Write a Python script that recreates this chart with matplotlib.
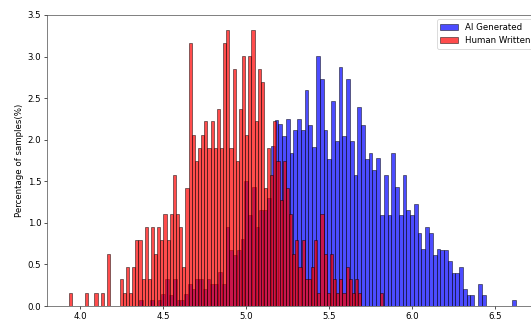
import numpy as np
import matplotlib
matplotlib.use("Agg")
import matplotlib.pyplot as plt

# percentage of samples per bin, 100 bins each
ai_range = (4.355, 6.625)
human_range = (3.936, 5.827)

ai_pct = [0.07, 0, 0, 0.07, 0, 0.07, 0.14, 0.33, 0.13, 0.33,
          0.07, 0.07, 0.14, 0.27, 0.20, 0.33, 0.33, 0.20, 0.33, 0.27,
          0.27, 0.41, 0.27, 0.95, 0.67, 0.61, 0.67, 0.81, 1.50, 1.09,
          1.43, 0.95, 1.16, 1.16, 1.30, 1.92, 2.24, 2.19, 2.04, 2.25,
          1.84, 2.12, 2.25, 2.12, 2.60, 2.18, 1.91, 3.01, 2.73, 2.12,
          1.77, 2.46, 1.98, 2.87, 2.05, 2.73, 1.98, 1.57, 2.39, 2.18,
          1.77, 1.84, 1.63, 1.78, 1.09, 1.57, 1.09, 1.84, 1.43, 1.09,
          1.57, 1.16, 1.09, 1.23, 0.88, 0.68, 0.95, 0.88, 0.61, 0.68,
          0.67, 0.67, 0.54, 0.40, 0.40, 0.47, 0.20, 0.13, 0.13, 0,
          0.27, 0.13, 0, 0, 0, 0, 0, 0, 0, 0.07]

human_pct = [0.16, 0, 0, 0, 0, 0.16, 0, 0, 0.16, 0,
             0.16, 0, 0.63, 0, 0, 0, 0.32, 0.16, 0.47, 0.16,
             0.47, 0.79, 0.79, 0.32, 0.95, 0.32, 0.95, 0.63, 0.95, 0.79,
             1.11, 0.79, 1.11, 1.58, 1.11, 0.95, 0.47, 1.42, 3.16, 2.06,
             1.74, 1.90, 2.06, 2.22, 1.90, 2.22, 1.90, 2.37, 1.90, 3.16,
             3.32, 1.90, 2.85, 1.74, 2.37, 3.01, 2.06, 3.01, 3.32, 2.22,
             2.85, 2.69, 1.42, 1.90, 1.58, 2.22, 1.74, 1.27, 1.74, 1.42,
             1.11, 0.63, 0.79, 0.47, 0.79, 0.32, 0.32, 0.47, 0.79, 0.16,
             1.11, 0.63, 0.16, 0.63, 0.32, 0.16, 0.32, 0.16, 0.47, 0.32,
             0.16, 0.32, 0.16, 0, 0, 0, 0, 0, 0, 0.16]

labels = ["AI Generated", "Human Written"]
yticks = [0.0, 0.5, 1.0, 1.5, 2.0, 2.5, 3.0, 3.5]

DPI = 60
plt.rcParams['font.size'] = 10.4
fig = plt.figure(figsize=(531 / DPI, 320 / DPI), dpi=DPI)
ax = fig.add_axes([47 / 531, 14 / 320, 491 / 531, 291 / 320])

for rng, pct, col, lab in [(ai_range, ai_pct, "blue", labels[0]),
                           (human_range, human_pct, "red", labels[1])]:
    edges = np.linspace(rng[0], rng[1], len(pct) + 1)
    ax.bar(edges[:-1], pct, width=np.diff(edges), align="edge",
           color=col, alpha=0.7, edgecolor="black", linewidth=0.8, label=lab)

for s in ax.spines.values():
    s.set_color("#444444")
ax.set_ylim(0, 3.5)
ax.set_yticks(yticks)
ax.set_ylabel("Percentage of samples(%)")
ax.legend(loc="upper right")

fig.savefig("out.png", dpi=DPI)
